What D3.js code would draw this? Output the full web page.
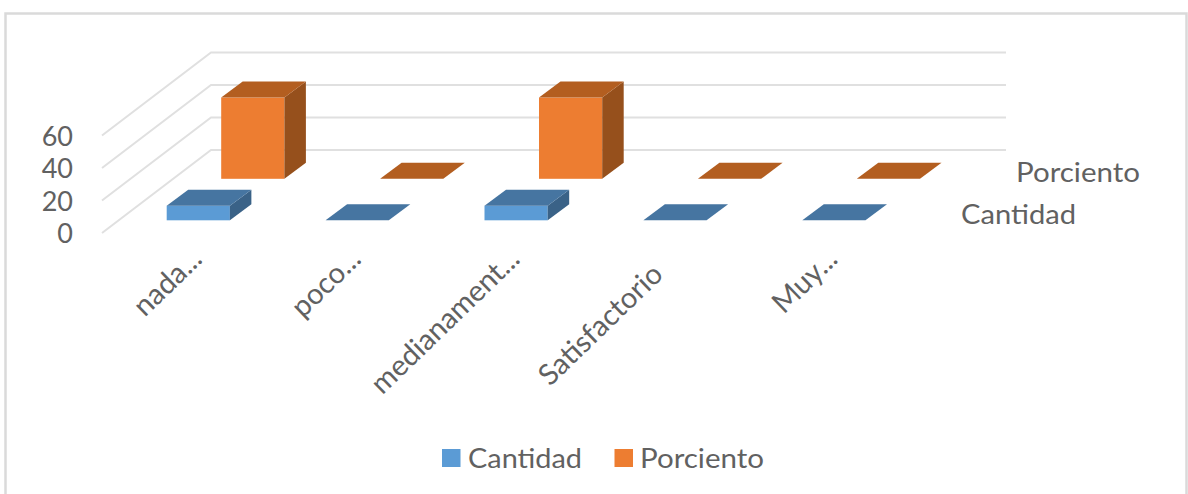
<!DOCTYPE html>
<html><head><meta charset="utf-8">
<script src="https://cdnjs.cloudflare.com/ajax/libs/d3/7.8.5/d3.min.js"></script>
<style>html,body{margin:0;padding:0;background:#fff}svg{display:block}text{font-family:Lato,"Open Sans",sans-serif;fill:#616161}</style>
</head><body><svg id="c" width="1188" height="494"></svg>
<script>
const categories=["nada...","poco...","medianament...","Satisfactorio","Muy..."];
const seriesNames=["Cantidad","Porciento"];
const cantidad=[9,0,9,0,0];
const porciento=[50,0,50,0,0];
const yTicks=[0,20,40,60];
const palette={Cantidad:{front:"#5b9bd5",top:"#4675a1",side:"#3a6287"},Porciento:{front:"#ed7d31",top:"#b35e20",side:"#96501c"}};

const svg=d3.select("#c");
const x=d3.scalePoint().domain(categories).range([166.7,802.3]);
const depth=d3.scalePoint().domain(seriesNames).range([0,41.5]);
const y=d3.scaleLinear().domain([0,60]).range([0,97.5]);
const baseY=220.3, barW=63.2, bdx=21.5, bdy=16, slope=109/83;
const floorFront=233, floorBack=150, backLeft=211, backRight=1006, fs=27;

svg.append("rect").attr("x",5.5).attr("y",13.5).attr("width",1181).attr("height",490)
  .attr("fill","#fff").attr("stroke","#dadada").attr("stroke-width",2.5);

yTicks.forEach(t=>{
  const h=y(t);
  svg.append("path").attr("fill","none").attr("stroke","#e0e0e0").attr("stroke-width",2)
    .attr("d",d3.line()([[backLeft-(floorFront-floorBack)*slope,floorFront-h],[backLeft,floorBack-h],[backRight,floorBack-h]]));
  svg.append("text").attr("x",73).attr("y",floorFront-h+1).attr("dy","0.35em").attr("text-anchor","end")
    .attr("font-size",fs).text(t);
});

const series=[{name:"Porciento",values:porciento,labelX:1016,labelY:173},{name:"Cantidad",values:cantidad,labelX:961,labelY:215}];
const poly=p=>d3.line()(p)+"Z";
series.forEach(s=>{
  const off=depth(s.name), c=palette[s.name];
  const g=svg.append("g");
  s.values.forEach((v,i)=>{
    const l=x(categories[i])+off*slope, r=l+barW, b=baseY-off, t=b-y(v);
    if(v>0){
      g.append("rect").attr("x",l).attr("y",t).attr("width",barW).attr("height",b-t).attr("fill",c.front);
      g.append("path").attr("d",poly([[r,t],[r+bdx,t-bdy],[r+bdx,b-bdy],[r,b]])).attr("fill",c.side);
    }
    g.append("path").attr("d",poly([[l,t],[l+bdx,t-bdy],[r+bdx,t-bdy],[r,t]])).attr("fill",c.top);
  });
  svg.append("text").attr("x",s.labelX).attr("y",s.labelY).attr("dy","0.35em").attr("font-size",fs)
    .attr("textLength",s.name==="Porciento"?124:115).attr("lengthAdjust","spacingAndGlyphs").text(s.name);
});

categories.forEach(c=>{
  const inset=c.endsWith("...")?0:22;
  const tx=x(c)+37-inset*0.72, ty=261+inset*0.7;
  svg.append("text").attr("transform",`translate(${tx},${ty}) rotate(-44)`)
    .attr("text-anchor","end").attr("font-size",fs+2).text(c);
});

const legend=[{n:"Cantidad",sx:442,tx:468,w:114},{n:"Porciento",sx:614.5,tx:640,w:124}];
legend.forEach(d=>{
  svg.append("rect").attr("x",d.sx).attr("y",449).attr("width",18.5).attr("height",18).attr("fill",palette[d.n].front);
  svg.append("text").attr("x",d.tx).attr("y",459).attr("dy","0.35em").attr("font-size",fs)
    .attr("textLength",d.w).attr("lengthAdjust","spacingAndGlyphs").text(d.n);
});
</script></body></html>
